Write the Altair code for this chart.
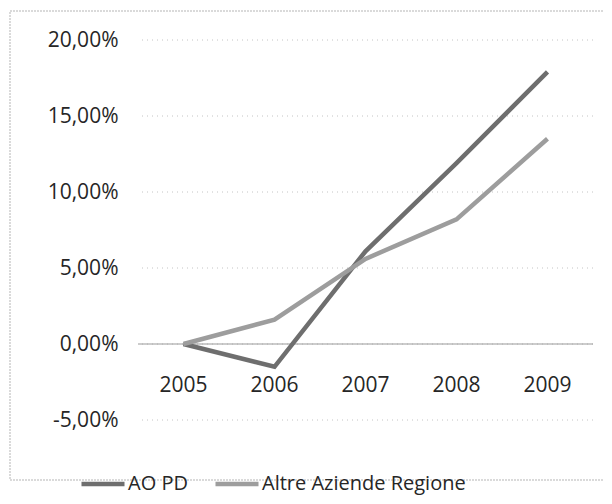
import altair as alt
import pandas as pd

years = ["2005", "2006", "2007", "2008", "2009"]
ao_pd = [0.0, -1.5, 6.1, 11.9, 17.9]
altre = [0.0, 1.6, 5.6, 8.2, 13.5]
series_names = ["AO PD", "Altre Aziende Regione"]
y_ticks = [-5, 0, 5, 10, 15, 20]

rows = []
for i, yr in enumerate(years):
    rows.append({"anno": yr, "serie": series_names[0], "valore": ao_pd[i]})
    rows.append({"anno": yr, "serie": series_names[1], "valore": altre[i]})
df = pd.DataFrame(rows)
df_years = pd.DataFrame({"anno": years})

FONT = "Open Sans"
FS = 21
W, H = 455, 380

x_scale = alt.Scale(domain=years, paddingOuter=0.5, paddingInner=0)
y_scale = alt.Scale(domain=[-5, 20], nice=False)
y_axis = alt.Axis(values=y_ticks, domain=False, ticks=False, grid=False,
                  labelFont=FONT, labelFontSize=FS, labelColor="#262626",
                  labelPadding=20, title=None,
                  labelExpr="replace(replace(format(datum.value, '.2f'), '.', ','), '\u2212', '-') + '%'")

frame = alt.Chart(pd.DataFrame({"a": [0]})).mark_rect(
    fill=None, filled=False, stroke="#b5b5b5", strokeWidth=1, strokeDash=[2, 1], clip=False
).encode(
    x=alt.value(-128), x2=alt.value(W + 40), y=alt.value(-29), y2=alt.value(H + 60)
)

grid = alt.Chart(pd.DataFrame({"v": y_ticks})).mark_rule(
    color="#c4c4c4", strokeDash=[1, 4], strokeWidth=1
).encode(y=alt.Y("v:Q", scale=y_scale, axis=y_axis))

zero = alt.Chart(pd.DataFrame({"v": [0]})).mark_rule(
    color="#9a9a9a", strokeWidth=1.2
).encode(y=alt.Y("v:Q", scale=y_scale, axis=y_axis))

lines = alt.Chart(df).mark_line(strokeWidth=4.5, strokeJoin="miter", strokeCap="butt").encode(
    x=alt.X("anno:O", scale=x_scale, axis=None),
    y=alt.Y("valore:Q", scale=y_scale, axis=y_axis),
    color=alt.Color("serie:N", sort=series_names,
                    scale=alt.Scale(domain=series_names, range=["#6e6e6e", "#9d9d9d"]),
                    legend=alt.Legend(orient="none", legendX=-59, legendY=420,
                                      direction="horizontal", title=None,
                                      symbolType="stroke", symbolSize=1850,
                                      symbolStrokeWidth=4.5, labelFont=FONT,
                                      labelFontSize=20, labelColor="#262626",
                                      labelLimit=500, labelOffset=1, columnPadding=18)),
    detail="serie:N",
)

xlabels = alt.Chart(df_years).mark_text(
    font=FONT, fontSize=FS, color="#262626", baseline="top", dy=31
).encode(
    x=alt.X("anno:O", scale=x_scale, axis=None),
    y=alt.YDatum(0),
    text="anno:N",
)

chart = alt.layer(frame, grid, zero, lines, xlabels).properties(
    width=W, height=H,
    autosize=alt.AutoSizeParams(type="none"),
    padding={"left": 130, "top": 32, "right": 11, "bottom": 76},
).configure_view(stroke=None)

chart.save("out.html", embed_options={"renderer": "svg", "actions": False})
